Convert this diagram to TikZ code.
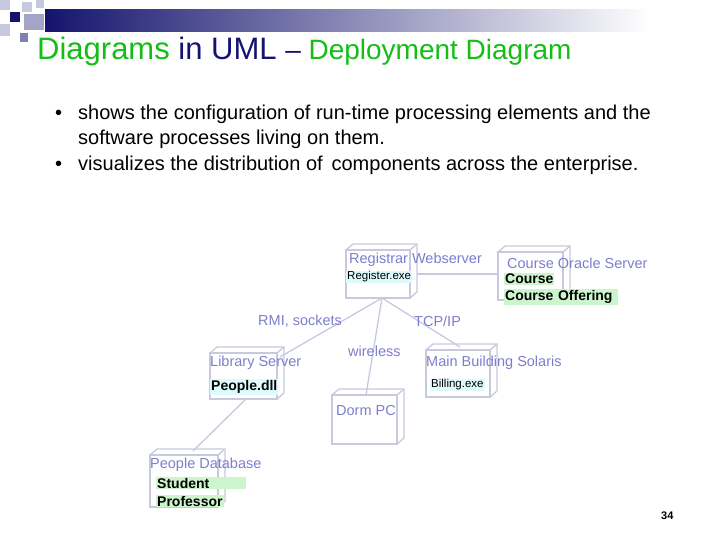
\documentclass[tikz,border=0pt]{standalone}
\usepackage{fontspec}
\setmainfont{Liberation Sans}
\begin{document}
\begin{tikzpicture}[x=1pt,y=-1pt,
  box/.style={draw=boxc,line width=1.3pt},
  lab/.style={text=labc,font=\fontsize{14.5}{16}\selectfont,inner sep=0pt,anchor=west},
  art/.style={font=\fontsize{14}{16}\selectfont\bfseries,inner sep=1pt,anchor=west},
  conn/.style={draw=boxc,line width=1.3pt}]
\definecolor{boxc}{RGB}{200,200,222}
\definecolor{labc}{RGB}{125,125,205}
\definecolor{navy}{RGB}{20,20,110}
\definecolor{tgreen}{RGB}{20,190,20}
\definecolor{hg}{RGB}{205,245,205}
\definecolor{hc}{RGB}{222,250,252}
\useasboundingbox (0,0) rectangle (720,540);
% header decoration
\shade[left color=navy,right color=white] (45,10) rectangle (650,32);
\fill[navy] (10,12) rectangle (20,22);
\fill[boxc] (0,0) rectangle (10,10);
\fill[boxc] (22,2) rectangle (32,12);
\fill[boxc!80!navy] (24,14) rectangle (44,30);
\fill[boxc] (0,24) rectangle (10,36);
\fill[boxc!60!navy] (20,33) rectangle (28,42);
\fill[boxc] (36,0) rectangle (44,8);
\node[anchor=base west,inner sep=0pt] (title) at (37,60) {\fontsize{31}{34}\selectfont\textcolor{tgreen}{Diagrams} \textcolor{navy}{in UML} \fontsize{28}{32}\selectfont\textcolor{navy}{–} \textcolor{tgreen}{Deployment Diagram}};
\node[anchor=base west,inner sep=0pt] (b1) at (55,120) {\fontsize{20}{22}\selectfont •};
\node[anchor=base west,inner sep=0pt] (t1) at (78,120) {\fontsize{20}{22}\selectfont shows the configuration of run-time processing elements and the};
\node[anchor=base west,inner sep=0pt] (t1b) at (78,145) {\fontsize{20}{22}\selectfont software processes living on them.};
\node[anchor=base west,inner sep=0pt] (b2) at (55,171) {\fontsize{20}{22}\selectfont •};
\node[anchor=base west,inner sep=0pt] (t2) at (78,171) {\fontsize{20}{22}\selectfont visualizes the distribution of\, components across the enterprise.};
% cubes
\foreach \n/\a/\b/\c/\d in {reg/346/250/410/298, crs/498/252/563/300, mb/426/350/490/397, dorm/332/395/397/444, lib/210/353/277/399, pdb/150/455/218/507}{
  \draw[box] (\a,\b) rectangle (\c,\d);
  \draw[box] (\a,\b) -- (\a+7,\b-6) -- (\c+7,\b-6) -- (\c+7,\d-6) -- (\c,\d);
  \draw[box] (\c,\b) -- (\c+7,\b-6);
  \coordinate (\n) at (\a,\b);
}
% connectors
\coordinate (regb) at (382,298);
\coordinate (libt) at (280,357);
\coordinate (dormt) at (366,395);
\coordinate (mbt) at (460,347);
\coordinate (regr) at (417,274);
\coordinate (crsl) at (498,274);
\coordinate (libb) at (246,399);
\coordinate (pdbt) at (193,451);
\draw[conn] (regb) -- (libt);
\draw[conn] (regb) -- (dormt);
\draw[conn] (regb) -- (mbt);
\draw[conn] (regr) -- (crsl);
\draw[conn] (libb) -- (pdbt);
% labels
\node[lab] (l1) at (349,260) {Registrar Webserver};
\node[art,fill=hc,font=\fontsize{11.5}{13}\selectfont] (a1) at (346,277) {Register.exe};
\node[lab] (l2) at (507,263) {Course Oracle Server};
\node[art,fill=hg] (a2) at (504,279) {Course};
\node[art,fill=hg,text width=112pt] (a3) at (504,297) {Course Offering};
\node[lab] (l3) at (426,363) {Main Building Solaris};
\node[art,fill=hc,font=\fontsize{11.5}{13}\selectfont] (a4) at (430,385) {Billing.exe};
\node[lab] (l4) at (336,411) {Dorm PC};
\node[lab] (l5) at (210,363) {Library Server};
\node[art,fill=hc] (a5) at (210,387) {People.dll};
\node[lab] (l6) at (150,465) {People Database};
\node[art,fill=hg,text width=88pt] (a6) at (156,483) {Student};
\node[art,fill=hg] (a7) at (156,501) {Professor};
\node[lab] (c1) at (258,321) {RMI, sockets};
\node[lab] (c2) at (414,321) {TCP/IP};
\node[lab] (c3) at (348,351) {wireless};
\node[anchor=west,inner sep=0pt,font=\fontsize{11}{13}\selectfont\bfseries] (pg) at (661,516) {34};
\end{tikzpicture}
\end{document}
